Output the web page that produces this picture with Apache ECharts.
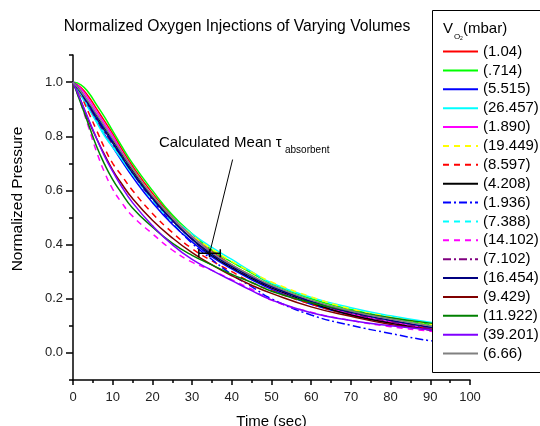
<!DOCTYPE html>
<html>
<head>
<meta charset="utf-8">
<script src="https://cdn.jsdelivr.net/npm/echarts@6/dist/echarts.min.js"></script>
<style>html,body{margin:0;padding:0;background:#fff}#c{width:540px;height:426px}</style>
</head>
<body>
<div id="c"></div>
<script>
// ---- data ----
const time = [0,2,4,6,8,10,12,15,20,25,30,35,40,45,50,60,70,80,90,100];
const v104   = [1,0.98,0.945,0.9,0.855,0.81,0.76,0.69,0.59,0.505,0.43,0.375,0.325,0.285,0.245,0.19,0.15,0.12,0.095,0.078];
const v0714  = [1,0.99,0.96,0.915,0.87,0.82,0.77,0.70,0.60,0.51,0.44,0.38,0.335,0.295,0.255,0.2,0.16,0.13,0.105,0.088];
const v5515  = [1,0.955,0.905,0.855,0.805,0.76,0.715,0.65,0.555,0.475,0.41,0.355,0.31,0.27,0.235,0.18,0.14,0.11,0.087,0.07];
const v26457 = [1,0.95,0.9,0.85,0.8,0.76,0.72,0.66,0.575,0.5,0.44,0.39,0.345,0.3,0.258,0.205,0.167,0.137,0.113,0.093];
const v1890  = [1,0.975,0.935,0.89,0.845,0.80,0.75,0.68,0.58,0.5,0.43,0.37,0.32,0.28,0.24,0.185,0.145,0.115,0.09,0.073];
const v19449 = [1,0.96,0.92,0.87,0.825,0.78,0.74,0.67,0.58,0.5,0.435,0.383,0.338,0.298,0.262,0.207,0.163,0.132,0.107,0.087];
const v8597  = [1,0.95,0.885,0.82,0.755,0.70,0.66,0.60,0.515,0.445,0.385,0.34,0.3,0.26,0.23,0.18,0.14,0.11,0.09,0.07];
const v4208  = [1,0.965,0.92,0.875,0.83,0.785,0.74,0.675,0.575,0.49,0.42,0.36,0.315,0.275,0.24,0.185,0.14,0.11,0.085,0.068];
const v1936  = [1,0.965,0.92,0.87,0.825,0.78,0.735,0.665,0.565,0.48,0.405,0.345,0.29,0.245,0.2,0.14,0.102,0.072,0.045,0.03];
const v7388  = [1,0.955,0.905,0.855,0.81,0.765,0.725,0.66,0.565,0.485,0.42,0.365,0.32,0.28,0.245,0.19,0.15,0.12,0.095,0.077];
const v14102 = [1,0.92,0.83,0.74,0.665,0.605,0.56,0.505,0.44,0.38,0.335,0.305,0.27,0.235,0.195,0.15,0.12,0.097,0.08,0.065];
const v7102  = [1,0.96,0.91,0.86,0.815,0.77,0.73,0.665,0.57,0.49,0.42,0.365,0.32,0.28,0.245,0.19,0.147,0.115,0.09,0.072];
const v16454 = [1,0.96,0.915,0.865,0.82,0.775,0.73,0.665,0.57,0.49,0.42,0.365,0.32,0.28,0.245,0.19,0.15,0.12,0.095,0.077];
const v9429  = [1,0.93,0.855,0.79,0.73,0.675,0.63,0.57,0.49,0.425,0.37,0.325,0.285,0.25,0.22,0.17,0.135,0.105,0.085,0.068];
const v11922 = [1,0.92,0.84,0.76,0.695,0.64,0.595,0.535,0.465,0.405,0.36,0.325,0.29,0.26,0.228,0.185,0.155,0.13,0.11,0.095];
const v39201 = [1,0.93,0.86,0.79,0.725,0.67,0.62,0.555,0.47,0.4,0.345,0.305,0.267,0.23,0.196,0.148,0.12,0.1,0.085,0.07];
const v666   = [1,0.965,0.925,0.88,0.835,0.79,0.745,0.68,0.58,0.5,0.43,0.37,0.325,0.285,0.25,0.195,0.155,0.125,0.1,0.08];

const seriesNames = ['(1.04)','(.714)','(5.515)','(26.457)','(1.890)','(19.449)','(8.597)','(4.208)','(1.936)','(7.388)','(14.102)','(7.102)','(16.454)','(9.429)','(11.922)','(39.201)','(6.66)'];
const seriesValues = [v104,v0714,v5515,v26457,v1890,v19449,v8597,v4208,v1936,v7388,v14102,v7102,v16454,v9429,v11922,v39201,v666];

const xTicks = [0,10,20,30,40,50,60,70,80,90,100];
const yTicks = [0.0,0.2,0.4,0.6,0.8,1.0];

// mean tau annotation (data units)
const tauMean = 34.4, tauErr = 2.7, tauLevel = 0.368;
const pointerFrom = [40.2, 0.714];
const pointerTo = [34.5, 0.373];

// ---- styles ----
const DASH = [6,5], DASHDOT = [8,3,2,3];
const styles = [
  ['#ff0000','solid'],['#00ff00','solid'],['#0000ff','solid'],['#00ffff','solid'],['#ff00ff','solid'],
  ['#ffff00',DASH],['#ff0000',DASH],['#000000','solid'],['#0000ff',DASHDOT],['#00ffff',DASH],
  ['#ff00ff',DASH],['#800080',DASHDOT],['#000080','solid'],['#800000','solid'],['#008000','solid'],
  ['#8000ff','solid'],['#808080','solid']
];
const FONT = 'Liberation Sans, Arial, Helvetica, sans-serif';

const series = seriesNames.map((n,i)=>({
  name: n, type: 'line', smooth: true, showSymbol: false, symbol: 'none',
  data: time.map((t,k)=>[t, seriesValues[i][k]]),
  lineStyle: {color: styles[i][0], type: styles[i][1], width: 1.5},
  itemStyle: {color: styles[i][0]},
  z: 2, silent: true
}));

series.push({
  type: 'custom', name: 'tau', silent: true, z: 3,
  data: [[tauMean, tauLevel, tauErr]],
  renderItem: function(params, api){
    const c = api.coord([api.value(0), api.value(1)]);
    const l = api.coord([api.value(0)-api.value(2), api.value(1)]);
    const r = api.coord([api.value(0)+api.value(2), api.value(1)]);
    const h = 4;
    const st = {stroke:'#000', lineWidth:1.5};
    return {type:'group', children:[
      {type:'line', shape:{x1:l[0],y1:l[1],x2:r[0],y2:r[1]}, style:st},
      {type:'line', shape:{x1:l[0],y1:l[1]-h,x2:l[0],y2:l[1]+h}, style:st},
      {type:'line', shape:{x1:r[0],y1:r[1]-h,x2:r[0],y2:r[1]+h}, style:st},
      {type:'line', shape:{x1:c[0],y1:c[1]-h,x2:c[0],y2:c[1]+h}, style:st}
    ]};
  }
});
series.push({
  type: 'line', name: 'pointer', silent: true, z: 3, showSymbol: false, symbol: 'none',
  data: [pointerFrom, pointerTo],
  lineStyle: {color:'#000', width: 1}
});

const chart = echarts.init(document.getElementById('c'), null, {renderer:'canvas'});
chart.setOption({
  animation: false,
  backgroundColor: '#fff',
  textStyle: {fontFamily: FONT},
  grid: {left: 73, right: 70, top: 55, bottom: 46, containLabel: false, outerBoundsMode: 'none'},
  xAxis: {
    type: 'value', min: 0, max: 100, interval: 10,
    name: 'Time (sec)', nameLocation: 'middle', nameGap: 34,
    nameTextStyle: {fontSize: 15, color: '#000', fontFamily: FONT},
    axisLine: {show: true, onZero: false, lineStyle: {color: '#000', width: 1.5}},
    axisTick: {show: true, length: 5, lineStyle: {color: '#000', width: 1.5}},
    minorTick: {show: true, splitNumber: 2, length: 3, lineStyle: {color: '#000', width: 1.5}},
    axisLabel: {fontSize: 13, color: '#222', margin: 11, fontFamily: FONT,
      customValues: xTicks},
    splitLine: {show: false}
  },
  yAxis: [{
    type: 'value', min: -0.1, max: 1.1, interval: 0.1,
    axisLine: {show: true, onZero: false, lineStyle: {color: '#000', width: 1.5}},
    axisTick: {show: true, length: 4, lineStyle: {color: '#000', width: 1.5}},
    axisLabel: {fontSize: 13, color: '#222', margin: 10, fontFamily: FONT,
      formatter: v => (Math.round(v*10) % 2 === 0 ? v.toFixed(1) : '')},
    splitLine: {show: false}
  },{
    type: 'value', min: -0.1, max: 1.1, interval: 0.1, position: 'left',
    axisLine: {show: false},
    axisTick: {show: true, length: 7, customValues: yTicks, lineStyle: {color: '#000', width: 1.5}},
    axisLabel: {show: false},
    splitLine: {show: false}
  }],
  legend: {
    orient: 'vertical', left: 442, top: 44, padding: 0, z: 5,
    itemWidth: 35, itemHeight: 14, itemGap: 3.875,
    selectedMode: false,
    data: seriesNames,
    textStyle: {fontSize: 15, color: '#000', fontFamily: FONT, lineHeight: 14},
    itemStyle: {opacity: 0},
    lineStyle: {width: 2}
  },
  graphic: [
    {type:'rect', z: 3, silent: true, shape:{x:432.5, y:10.5, width:140, height:362},
      style:{fill:'#fff', stroke:'#000', lineWidth:1}},
    {type:'text', z: 6, silent: true, x: 443, y: 29, style:{text:'V', fontSize:15, fontFamily:FONT, fill:'#000', verticalAlign:'middle'}},
    {type:'text', z: 6, silent: true, x: 454, y: 37, style:{text:'O', fontSize:8, fontFamily:FONT, fill:'#000', verticalAlign:'middle'}},
    {type:'text', z: 6, silent: true, x: 460, y: 39, style:{text:'2', fontSize:5, fontFamily:FONT, fill:'#000', verticalAlign:'middle'}},
    {type:'text', z: 6, silent: true, x: 463, y: 29, style:{text:'(mbar)', fontSize:15, fontFamily:FONT, fill:'#000', verticalAlign:'middle'}},
    {type:'text', z: 6, silent: true, x: 237, y: 27, style:{text:'Normalized Oxygen Injections of Varying Volumes', fontSize:15.7, fontFamily:FONT, fill:'#000', align:'center', verticalAlign:'middle'}},
    {type:'text', z: 6, silent: true, x: 18, y: 199, rotation: Math.PI/2, style:{text:'Normalized Pressure', fontSize:15.5, fontFamily:FONT, fill:'#000', align:'center', verticalAlign:'middle'}},
    {type:'text', z: 6, silent: true, x: 159, y: 143, style:{text:'Calculated Mean τ', fontSize:15, fontFamily:FONT, fill:'#000', verticalAlign:'middle'}},
    {type:'text', z: 6, silent: true, x: 285, y: 150, style:{text:'absorbent', fontSize:10, fontFamily:FONT, fill:'#000', verticalAlign:'middle'}}
  ],
  series: series
});
</script>
</body>
</html>
